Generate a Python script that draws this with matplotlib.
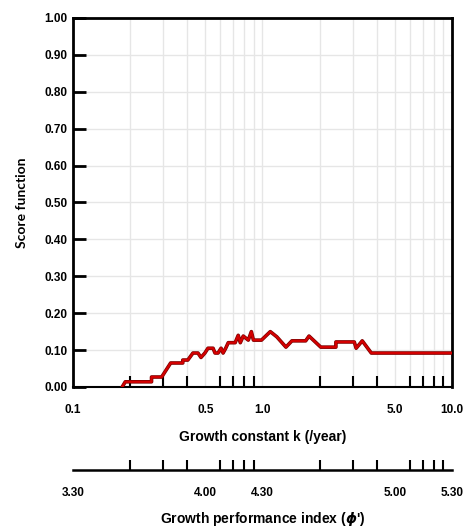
"""
Score function vs growth constant k, with a secondary growth performance
index (phi') scale drawn underneath the k axis.
"""

import matplotlib
matplotlib.use("Agg")
import matplotlib.pyplot as plt
from matplotlib.ticker import FixedLocator, NullLocator

plt.rcParams["font.family"] = ["Liberation Sans", "DejaVu Sans"]
plt.rcParams["font.weight"] = "bold"

# Score function curve (k in /year, score)
k_vals = [0.182, 0.189, 0.26, 0.26, 0.294, 0.328, 0.38, 0.38, 0.404, 0.43, 0.457,
          0.474, 0.497, 0.516, 0.549, 0.562, 0.583, 0.605, 0.62, 0.64, 0.66, 0.718,
          0.745, 0.764, 0.792, 0.842, 0.874, 0.896, 0.988, 1.10, 1.19, 1.33, 1.43,
          1.69, 1.76, 2.03, 2.44, 2.44, 3.05, 3.12, 3.36, 3.75, 10.0]
score = [0.0, 0.014, 0.014, 0.027, 0.027, 0.065, 0.065, 0.073, 0.073, 0.092, 0.092,
         0.080, 0.092, 0.105, 0.105, 0.092, 0.092, 0.105, 0.092, 0.105, 0.120, 0.120,
         0.140, 0.120, 0.138, 0.127, 0.150, 0.127, 0.127, 0.150, 0.136, 0.108, 0.125,
         0.125, 0.138, 0.108, 0.108, 0.122, 0.122, 0.105, 0.125, 0.092, 0.092]

y_ticks = [0.0, 0.1, 0.2, 0.3, 0.4, 0.5, 0.6, 0.7, 0.8, 0.9, 1.0]
k_labels = {0.1: "0.1", 0.5: "0.5", 1.0: "1.0", 5.0: "5.0", 10.0: "10.0"}
phi_labels = {0.1: "3.30", 0.5: "4.00", 1.0: "4.30", 5.0: "5.00", 10.0: "5.30"}
minor_k = [0.2, 0.3, 0.4, 0.5, 0.6, 0.7, 0.8, 0.9, 1.0,
           2.0, 3.0, 4.0, 5.0, 6.0, 7.0, 8.0, 9.0]

fig = plt.figure(figsize=(4.67, 5.32), dpi=100)
ax = fig.add_axes([0.156, 0.2726, 0.812, 0.6936])

ax.set_xscale("log")
ax.set_xlim(0.1, 10.0)
ax.set_ylim(0.0, 1.0)

# light grid at every log sub-division and every y tick
for k in minor_k:
    ax.axvline(k, color="#e6e6e6", linewidth=1.0, zorder=0)
for y in y_ticks[1:-1]:
    ax.axhline(y, color="#e6e6e6", linewidth=1.0, zorder=0)

ax.plot(k_vals, score, color="#7a0000", linewidth=2.6, zorder=3)
ax.plot(k_vals, score, color="#d40000", linewidth=1.6, zorder=4)

for side in ("left", "top", "right"):
    ax.spines[side].set_linewidth(2.0)
ax.spines["bottom"].set_linewidth(1.5)

ax.set_yticks(y_ticks)
ax.set_yticklabels([f"{v:.2f}" for v in y_ticks], fontsize=8.5, fontweight="bold")
ax.tick_params(axis="y", direction="in", length=9, width=2.0, pad=4)

ax.xaxis.set_major_locator(FixedLocator(list(k_labels)))
ax.set_xticklabels(list(k_labels.values()), fontsize=8.5, fontweight="bold")
ax.xaxis.set_minor_locator(FixedLocator(minor_k))
ax.tick_params(axis="x", which="major", length=0, pad=12)
ax.tick_params(axis="x", which="minor", direction="in", length=8, width=1.5)

ax.set_ylabel("Score function", fontsize=10, fontweight="bold", family="Lato",
              labelpad=12)
ax.set_xlabel("Growth constant k (/year)", fontsize=10, fontweight="bold", labelpad=10)

# secondary phi' scale: a bare axis line with its own ticks
ax2 = fig.add_axes([0.156, 0.1165, 0.812, 0.01])
ax2.set_xscale("log")
ax2.set_xlim(0.1, 10.0)
ax2.patch.set_visible(False)
for side in ("left", "top", "right"):
    ax2.spines[side].set_visible(False)
ax2.spines["bottom"].set_linewidth(1.8)
ax2.yaxis.set_major_locator(NullLocator())
ax2.xaxis.set_major_locator(FixedLocator(list(phi_labels)))
ax2.set_xticklabels(list(phi_labels.values()), fontsize=8.5, fontweight="bold")
ax2.xaxis.set_minor_locator(FixedLocator(minor_k + [0.1, 10.0]))
ax2.tick_params(axis="x", which="major", length=0, pad=12)
ax2.tick_params(axis="x", which="minor", direction="in", length=7, width=1.5)
ax2.set_xlabel(r"Growth performance index ($\boldsymbol{\phi}$')", fontsize=10,
               fontweight="bold", labelpad=8)

fig.savefig("out.png", dpi=100)
